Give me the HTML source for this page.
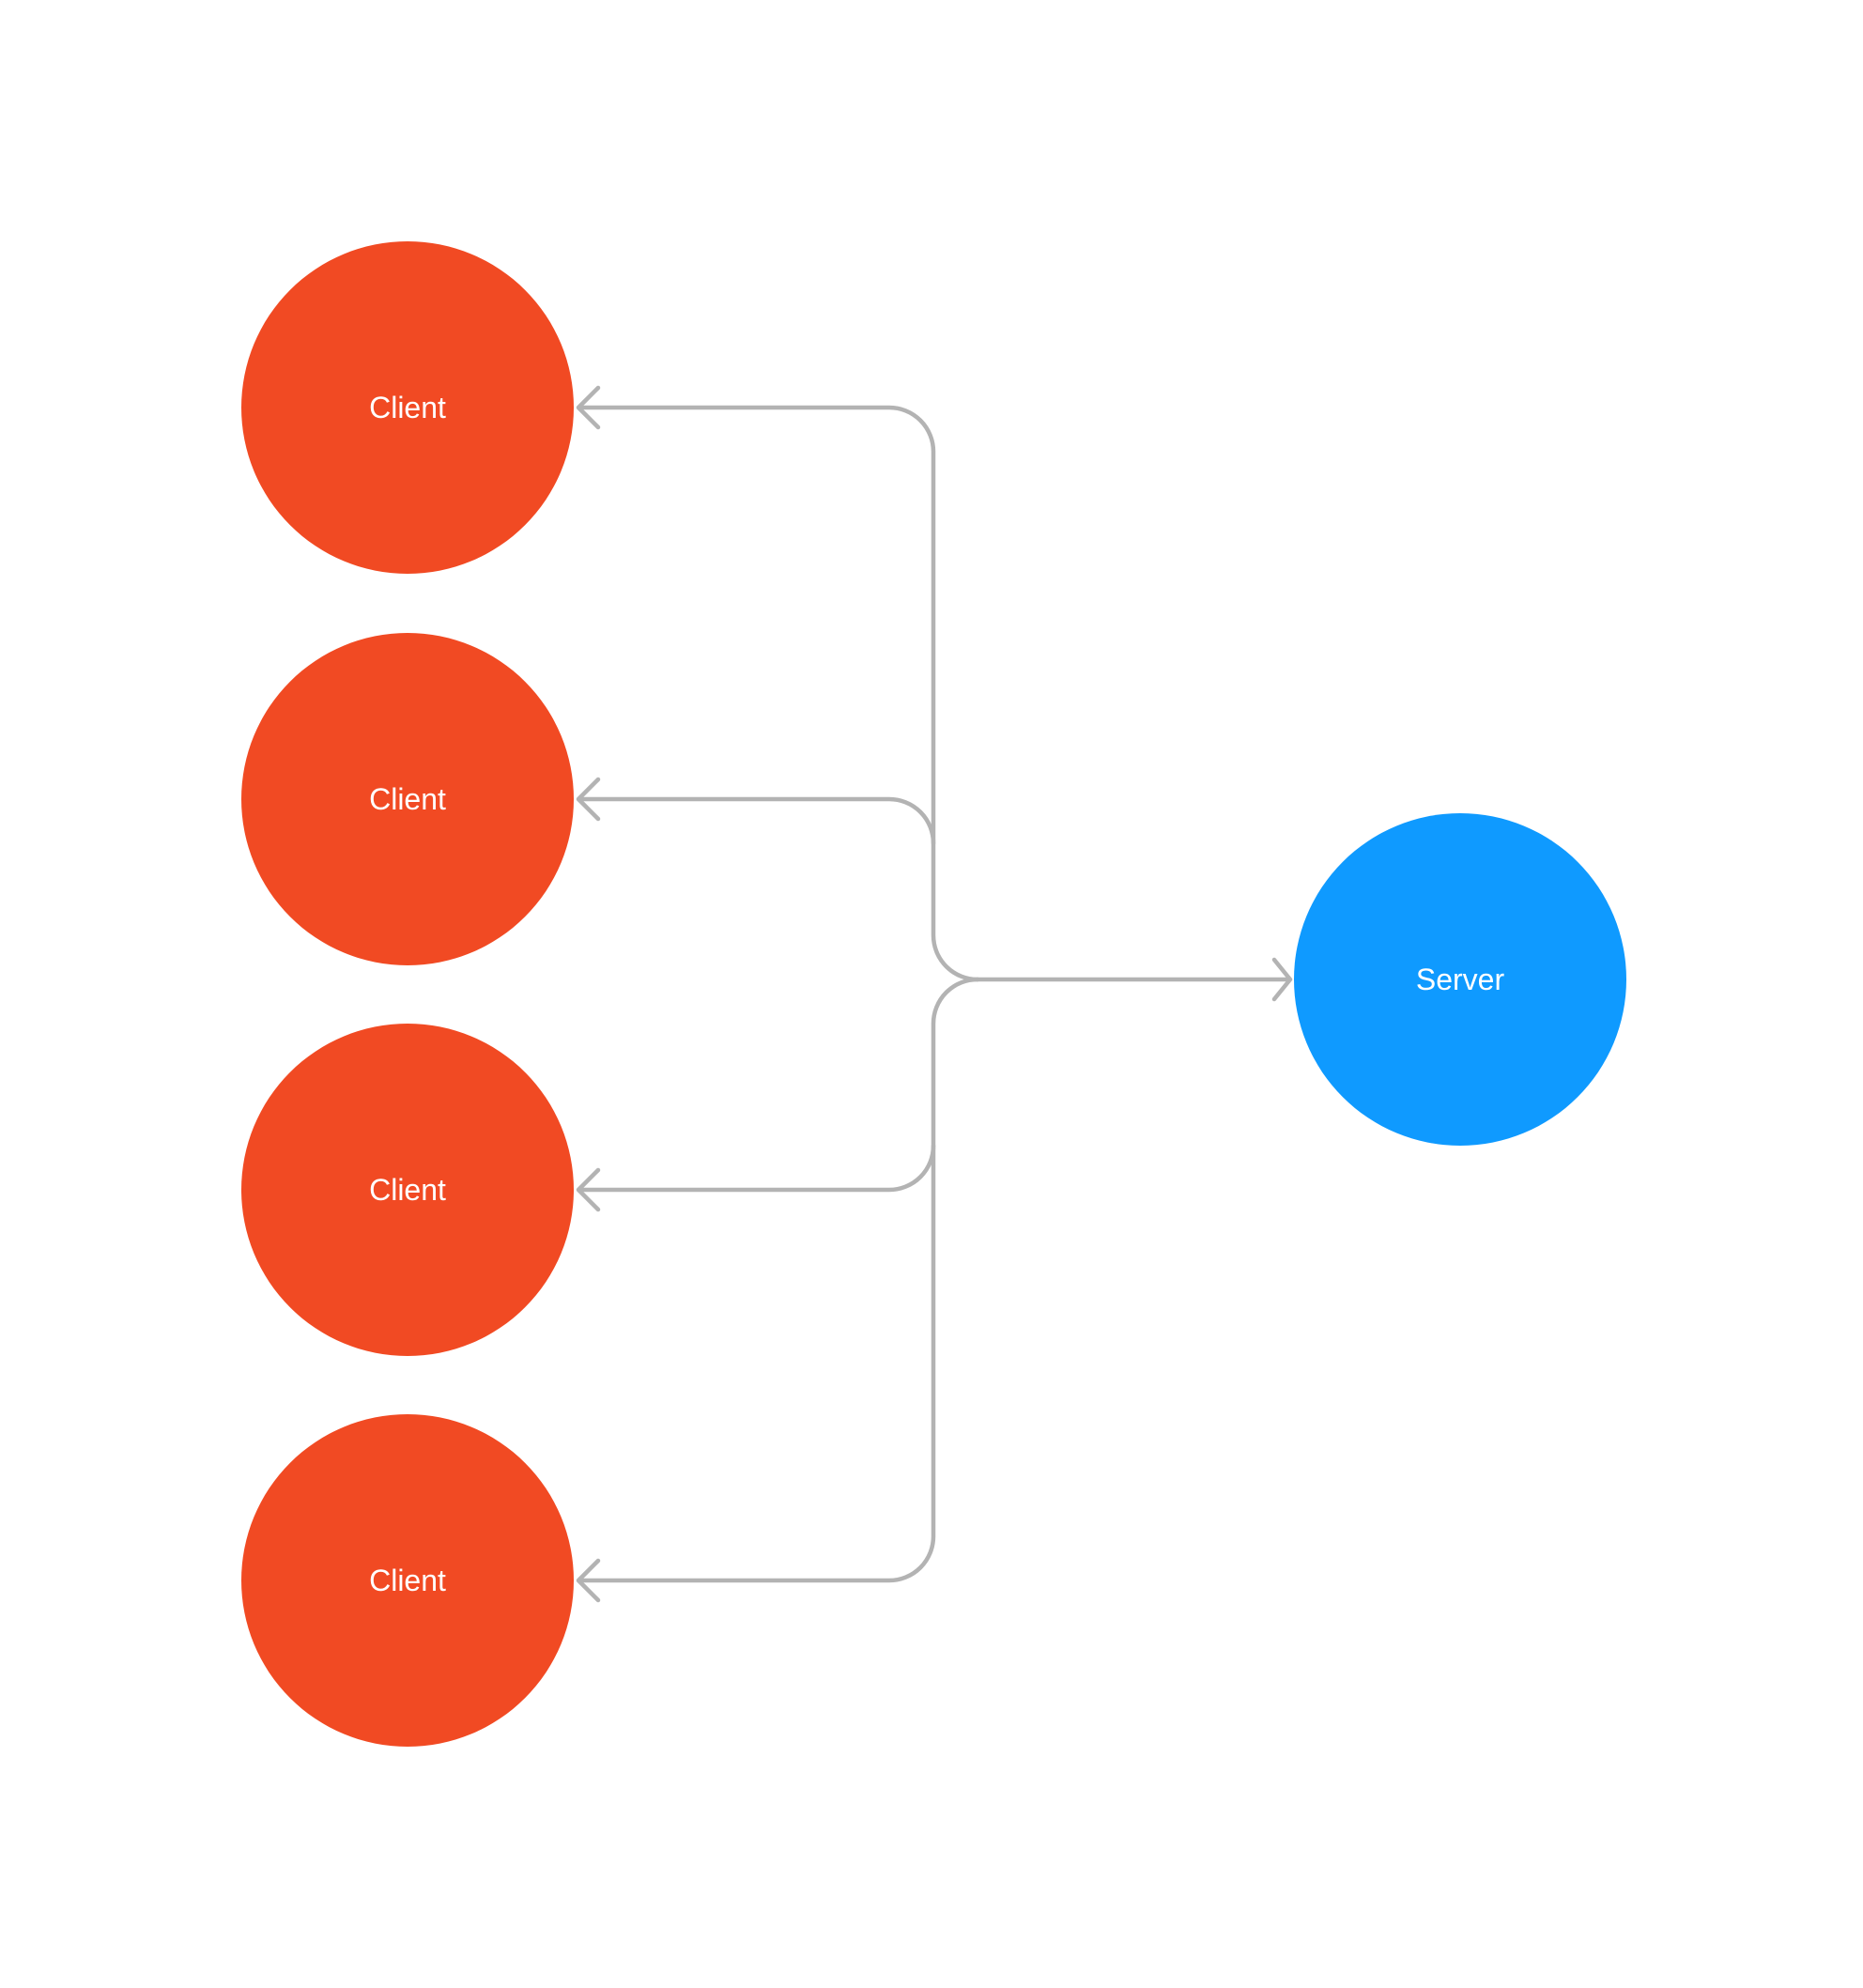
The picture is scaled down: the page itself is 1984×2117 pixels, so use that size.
<!DOCTYPE html>
<html><head><style>html,body{margin:0;padding:0;background:#fff}</style></head>
<body>
<svg width="1984" height="2112" viewBox="0 0 1984 2112" xmlns="http://www.w3.org/2000/svg">
<g transform="translate(2,2)">
<g fill="none" stroke="#b3b3b3" stroke-width="4.5" stroke-linecap="round" stroke-linejoin="round">
<path d="M1039 1041 H1370"/>
<path d="M1355 1020 L1372 1041 L1355 1062"/>
<path d="M1039 1041 A47 47 0 0 1 992 994 V479 A47 47 0 0 0 945 432 H615"/>
<path d="M992 896 A47 47 0 0 0 945 849 H615"/>
<path d="M1039 1041 A47 47 0 0 0 992 1088 V1634 A47 47 0 0 1 945 1681 H615"/>
<path d="M992 1218 A47 47 0 0 1 945 1265 H615"/>
<path d="M635 411 L614 432 L635 453"/>
<path d="M635 828 L614 849 L635 870"/>
<path d="M635 1244 L614 1265 L635 1286"/>
<path d="M635 1660 L614 1681 L635 1702"/>
</g>
<g fill="#f14a23">
<circle cx="432" cy="432" r="177"/>
<circle cx="432" cy="849" r="177"/>
<circle cx="432" cy="1265" r="177"/>
<circle cx="432" cy="1681" r="177"/>
</g>
<circle cx="1553" cy="1041" r="177" fill="#0f9aff"/>
<g fill="#fff" font-family="Liberation Sans, sans-serif" font-size="32" text-anchor="middle" dominant-baseline="central">
<text x="432" y="432">Client</text>
<text x="432" y="849">Client</text>
<text x="432" y="1265">Client</text>
<text x="432" y="1681">Client</text>
<text x="1553" y="1041">Server</text>
</g>
</g>
</svg>
</body></html>
